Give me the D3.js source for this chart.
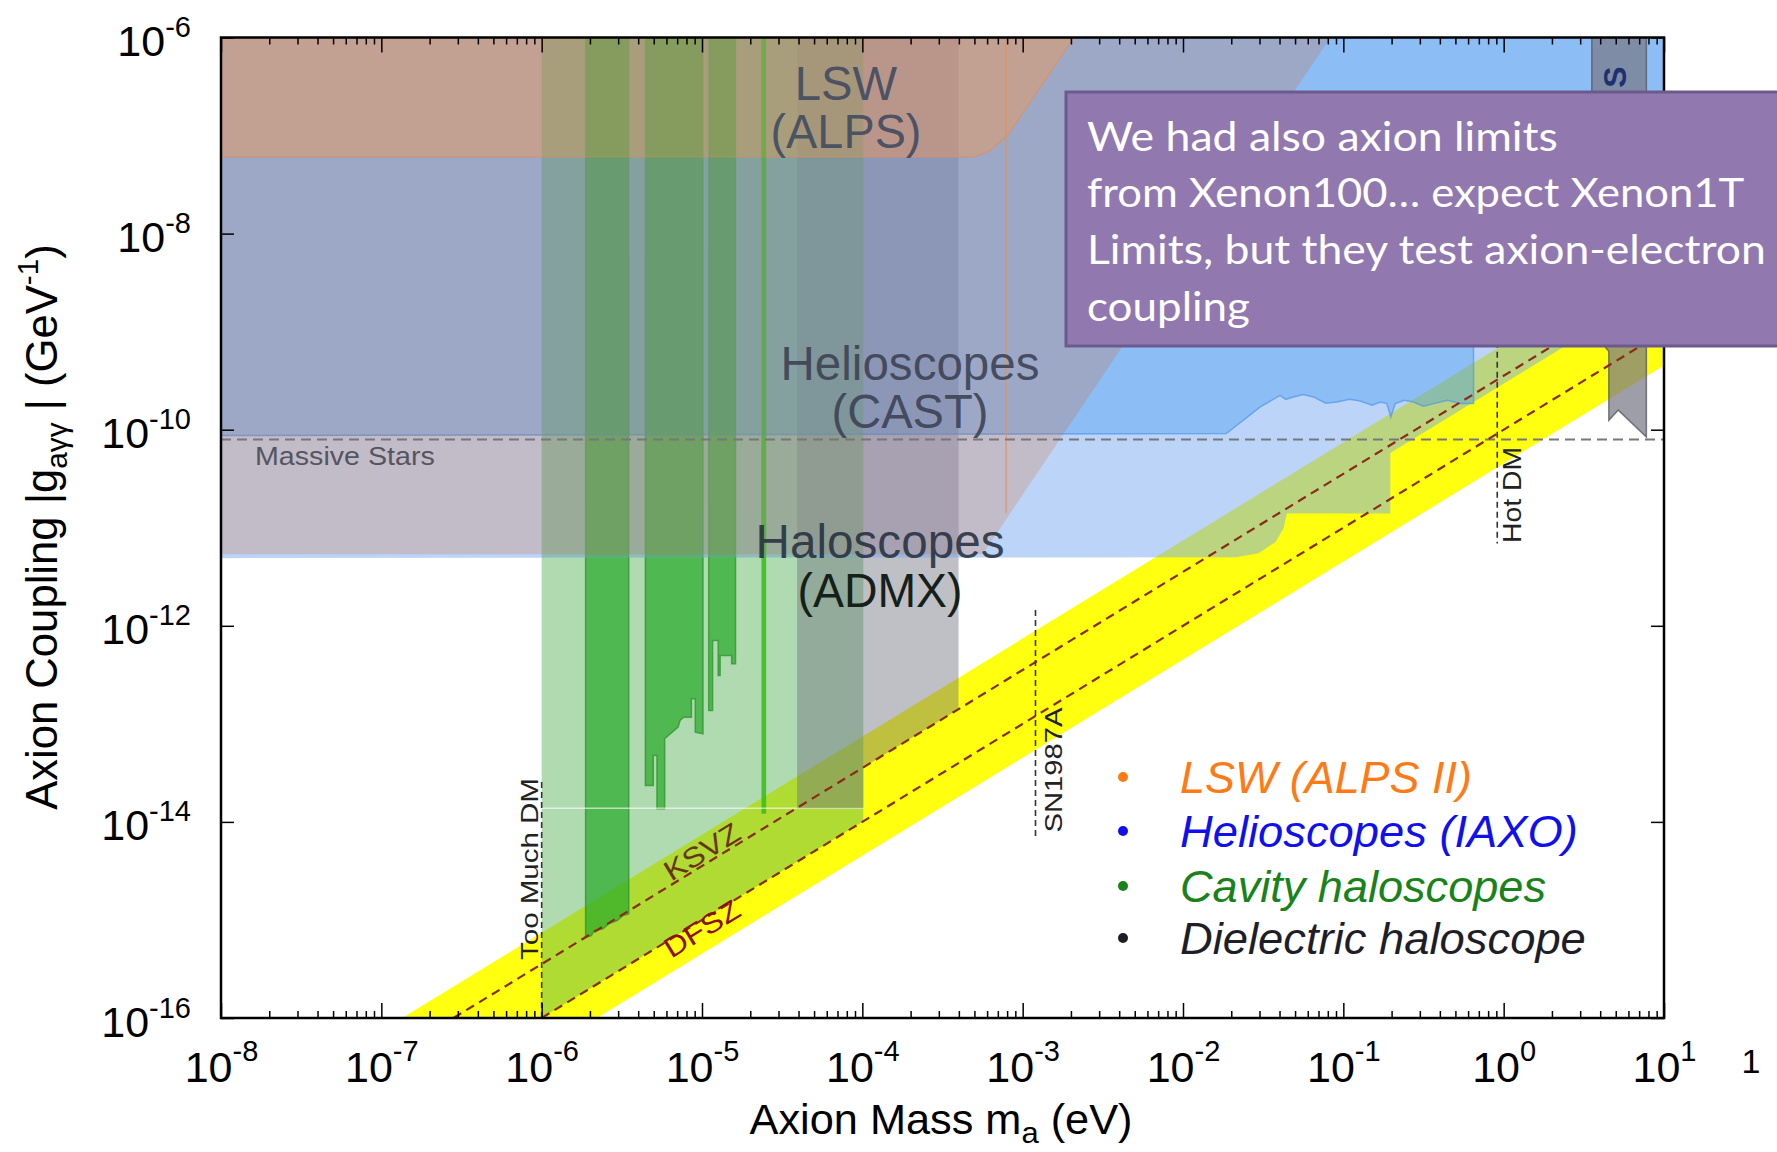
<!DOCTYPE html>
<html>
<head>
<meta charset="utf-8">
<script src="https://cdn.jsdelivr.net/npm/d3@7/dist/d3.min.js"></script>
<style>
body { margin: 0; background: #fff; }
text { font-family: "Liberation Sans", Arial, Helvetica, sans-serif; }
</style>
</head>
<body>
<svg width="1777" height="1152"></svg>
<script>
// every pair is [log10(mass / eV), log10(coupling / GeV^-1)]
var massDecades = [-8, -7, -6, -5, -4, -3, -2, -1, 0, 1];
var couplingDecades = [-6, -8, -10, -12, -14, -16];

var qcdBand = [[-6.87, -16], [-5.655, -16], [1, -9.345], [1, -8.13]];
var ksvzLine = [[-6.55, -16], [1, -8.45]];
var dfszLine = [[-6.0, -16], [1, -9.0]];

var alpsLimit = [[-8, -6], [-2.68, -6], [-2.917, -6.57], [-3.084, -6.976], [-3.2, -7.15], [-3.30, -7.217], [-8, -7.217]];
var alps2Reach = [[-8, -6], [-1.08, -6], [-3.25, -11.27], [-8, -11.27]];
var alpsEdge = [[-3.103, -6], [-3.103, -10.85]];

var castLimit = [[-8, -6], [1, -6], [1, -8.8], [-0.188, -8.8], [-0.188, -9.734], [-0.271, -9.734],
  [-0.35, -9.70], [-0.437, -9.734], [-0.50, -9.76], [-0.562, -9.717], [-0.62, -9.70], [-0.676, -9.734],
  [-0.704, -9.87], [-0.729, -9.734], [-0.77, -9.717], [-0.82, -9.75], [-0.895, -9.707], [-0.96, -9.69],
  [-1.04, -9.717], [-1.11, -9.73], [-1.186, -9.666], [-1.25, -9.64], [-1.311, -9.666], [-1.36, -9.69],
  [-1.394, -9.649], [-1.518, -9.768], [-1.73, -10.04], [-8, -10.06]];

var iaxoReach = [[-8, -6], [1, -6], [1, -8.53], [-0.707, -10.237], [-0.707, -10.855], [-1.352, -10.855],
  [-1.373, -11.006], [-1.423, -11.145], [-1.529, -11.26], [-1.67, -11.30], [-8, -11.31]];

var telescopes = [[0.55, -6], [0.89, -6], [0.89, -10.074], [0.715, -9.80], [0.656, -9.904], [0.656, -9.2], [0.55, -9.0]];

var cavityReach = [[-6, -6], [-3.994, -6], [-3.994, -13.994], [-6, -16]];
var cavitySplit = [[-6, -13.86], [-3.994, -13.86]];

var admxA = [[-5.726, -6], [-5.726, -15.177], [-5.690, -15.159], [-5.673, -15.108], [-5.618, -15.091],
  [-5.583, -15.04], [-5.529, -15.006], [-5.493, -14.955], [-5.457, -14.938], [-5.457, -6]];
var admxB = [[-5.353, -6], [-5.353, -13.629], [-5.304, -13.629], [-5.304, -13.322], [-5.281, -13.322],
  [-5.281, -13.866], [-5.233, -13.866], [-5.233, -13.152], [-5.149, -13.034], [-5.137, -12.966],
  [-5.114, -12.932], [-5.066, -12.932], [-5.066, -12.744], [-5.042, -12.744], [-5.042, -13.085],
  [-4.994, -13.101], [-4.994, -6]];
var admxC = [[-4.958, -6], [-4.958, -12.863], [-4.934, -12.863], [-4.934, -12.149], [-4.899, -12.149],
  [-4.899, -12.506], [-4.887, -12.506], [-4.887, -12.302], [-4.815, -12.302], [-4.815, -12.387],
  [-4.791, -12.387], [-4.791, -6]];
var admxD = [[-4.629, -6], [-4.629, -13.918], [-4.600, -13.918], [-4.600, -6]];

var dielectricReach = [[-4.407, -6], [-3.40, -6], [-3.40, -12.85], [-3.994, -13.444], [-3.994, -13.86], [-4.407, -13.86]];

var massiveStars = [[-8, -10.10], [1, -10.10]];
var tooMuchDM = [[-6.0, -16], [-6.0, -13.56]];
var sn1987a = [[-2.92, -11.84], [-2.92, -14.15]];
var hotDM = [[-0.04, -9.0], [-0.04, -11.16]];

var legendItems = ["LSW (ALPS II)", "Helioscopes (IAXO)", "Cavity haloscopes", "Dielectric haloscope"];
var noteLines = ["We had also axion limits", "from Xenon100\u2026 expect Xenon1T", "Limits, but they test axion-electron", "coupling"];

var svg = d3.select("svg");
var plotLeft = 221, plotRight = 1664, plotTop = 37.5, plotBottom = 1018;

var x = d3.scaleLog().domain([1e-8, 10]).range([plotLeft, plotRight]);
var y = d3.scaleLog().domain([1e-16, 1e-6]).range([plotBottom, plotTop]);

function px(d) { return x(Math.pow(10, d[0])); }
function py(d) { return y(Math.pow(10, d[1])); }
var line = d3.line().x(px).y(py);

var defs = svg.append("defs");
defs.append("clipPath").attr("id", "plot")
  .append("rect").attr("x", plotLeft).attr("y", plotTop)
  .attr("width", plotRight - plotLeft).attr("height", plotBottom - plotTop);
// zone covered by the blue regions, where the green marks are tinted again
defs.append("clipPath").attr("id", "blueZone")
  .append("rect").attr("x", plotLeft).attr("y", plotTop)
  .attr("width", plotRight - plotLeft).attr("height", y(Math.pow(10, -11.3)) - plotTop);

var plot = svg.append("g").attr("clip-path", "url(#plot)");

function region(g, pts, fill, opacity, stroke) {
  return g.append("path")
    .attr("d", line(pts) + "Z")
    .attr("fill", fill)
    .attr("fill-opacity", opacity)
    .attr("stroke", stroke || "none")
    .attr("stroke-width", 1.5);
}

function dashed(pts, color, width, dash) {
  return plot.append("path")
    .attr("d", line(pts))
    .attr("fill", "none")
    .attr("stroke", color)
    .attr("stroke-width", width)
    .attr("stroke-dasharray", dash);
}

var admx = [admxA, admxB, admxC];

region(plot, qcdBand, "#ffff10", 1);
region(plot, cavityReach, "rgb(90,180,90)", 0.48);
admx.forEach(function(d) { region(plot, d, "rgb(40,170,40)", 0.7, "rgba(50,150,50,0.8)"); });
region(plot, admxD, "rgb(60,190,30)", 0.9);
dashed(cavitySplit, "#ffffff", 1.5, null).attr("stroke-opacity", 0.6);
region(plot, dielectricReach, "rgb(110,110,125)", 0.44);
region(plot, iaxoReach, "rgb(120,170,240)", 0.5);
region(plot, castLimit, "rgb(60,150,240)", 0.37, "rgba(80,150,235,0.7)");
region(plot, alps2Reach, "rgb(230,80,0)", 0.19);
region(plot, alpsLimit, "rgb(253,150,67)", 0.4, "rgba(230,140,90,0.6)");
dashed(alpsEdge, "rgb(215,150,110)", 1.2, null);

var tint = plot.append("g").attr("clip-path", "url(#blueZone)");
region(tint, cavityReach, "rgb(120,170,90)", 0.2);
admx.forEach(function(d) { region(tint, d, "rgb(90,160,60)", 0.35); });
region(tint, admxD, "rgb(80,180,40)", 0.5);

region(plot, telescopes, "rgb(120,120,135)", 0.72, "rgba(90,90,100,0.8)");

dashed(massiveStars, "#77777d", 2, "10,6");
dashed(ksvzLine, "#8a2b1c", 2.2, "9,6");
dashed(dfszLine, "#8a2b1c", 2.2, "9,6");
dashed(tooMuchDM, "#333", 1.6, "6,4");
dashed(sn1987a, "#333", 1.6, "6,4");
dashed(hotDM, "#333", 1.6, "6,4");

// text helper: width given in pixels, text squeezed or stretched to fit
function label(str, cx, cy, width, size, color, anchor, rotate, extra) {
  var t = svg.append("text")
    .attr("font-size", size)
    .attr("fill", color)
    .attr("text-anchor", anchor)
    .text(str);
  if (extra) extra(t);
  var k = width ? width / t.node().getBBox().width : 1;
  t.attr("transform", "translate(" + cx + "," + cy + ") rotate(" + rotate + ") scale(" + k + ",1)");
  return t;
}

label("LSW", 846, 100, 103, 48, "#3e4a60", "middle", 0).attr("fill-opacity", 0.9);
label("(ALPS)", 846, 148, 151, 48, "#3e4a60", "middle", 0).attr("fill-opacity", 0.9);
label("Helioscopes", 910, 380, 259, 48, "#3b4152", "middle", 0).attr("fill-opacity", 0.9);
label("(CAST)", 910, 428, 157, 48, "#3b4152", "middle", 0).attr("fill-opacity", 0.9);
label("Haloscopes", 880, 558, 249, 48, "#263040", "middle", 0).attr("fill-opacity", 0.9);
label("(ADMX)", 880, 607, 165, 48, "#142018", "middle", 0);
label("Massive Stars", 255, 465, 180, 25, "#55555f", "start", 0);
label("Too Much DM", 538, 869, 182, 24, "#222", "middle", -90);
label("SN1987A", 1062, 770, 125, 24, "#222", "middle", -90);
label("Hot DM", 1521, 495, 96, 25, "#222", "middle", -90);
label("KSVZ", 707, 860, 84, 28, "#6a3410", "middle", -31.4);
label("DFSZ", 707, 937, 84, 28, "#8b1010", "middle", -31.4);
label("S", 1626, 77, null, 32, "#1e3070", "middle", -90).attr("font-weight", "bold");

// axes
var xMajor = massDecades.map(function(k) { return Math.pow(10, k); });
var xMinor = [];
massDecades.slice(0, -1).forEach(function(k) {
  for (var j = 2; j < 10; j++) xMinor.push(j * Math.pow(10, k));
});
var yMajor = couplingDecades.map(function(k) { return Math.pow(10, k); });

function clean(g) {
  g.select(".domain").remove();
  g.selectAll("line").attr("stroke", "#000").attr("stroke-width", 1.5);
}

var gx = svg.append("g").attr("transform", "translate(0," + plotBottom + ")")
  .call(d3.axisBottom(x).tickValues(xMajor).tickSizeInner(-15).tickSizeOuter(0))
  .call(clean);
gx.selectAll(".tick text")
  .attr("y", 64).attr("dy", null).attr("font-size", 43).attr("fill", "#000")
  .text("10")
  .append("tspan").attr("dy", -21).attr("font-size", 29)
  .text(function(d) { return Math.round(Math.log10(d)); });

svg.append("g").attr("transform", "translate(0," + plotBottom + ")")
  .call(d3.axisBottom(x).tickValues(xMinor).tickSizeInner(-7).tickSizeOuter(0).tickFormat(""))
  .call(clean);
svg.append("g").attr("transform", "translate(0," + plotTop + ")")
  .call(d3.axisTop(x).tickValues(xMajor).tickSizeInner(-15).tickSizeOuter(0).tickFormat(""))
  .call(clean);
svg.append("g").attr("transform", "translate(0," + plotTop + ")")
  .call(d3.axisTop(x).tickValues(xMinor).tickSizeInner(-7).tickSizeOuter(0).tickFormat(""))
  .call(clean);

var gy = svg.append("g").attr("transform", "translate(" + plotLeft + ",0)")
  .call(d3.axisLeft(y).tickValues(yMajor).tickSizeInner(-13).tickSizeOuter(0).tickPadding(30))
  .call(clean);
gy.selectAll(".tick text")
  .attr("y", 18).attr("dy", null).attr("font-size", 43).attr("fill", "#000")
  .text("10")
  .append("tspan").attr("dy", -19).attr("font-size", 29)
  .text(function(d) { return Math.round(Math.log10(d)); });

svg.append("g").attr("transform", "translate(" + plotRight + ",0)")
  .call(d3.axisRight(y).tickValues(yMajor).tickSizeInner(-13).tickSizeOuter(0).tickFormat(""))
  .call(clean);

svg.append("rect")
  .attr("x", plotLeft).attr("y", plotTop)
  .attr("width", plotRight - plotLeft).attr("height", plotBottom - plotTop)
  .attr("fill", "none").attr("stroke", "#000").attr("stroke-width", 2.5);

svg.append("text").attr("x", 1751).attr("y", 1073).attr("font-size", 34).attr("text-anchor", "middle").text("1");

// axis titles
var xt = svg.append("text").attr("font-size", 42).attr("text-anchor", "middle");
xt.append("tspan").text("Axion Mass m");
xt.append("tspan").attr("font-size", 30).attr("dy", 9).text("a");
xt.append("tspan").attr("dy", -9).text(" (eV)");
var xk = 383 / xt.node().getBBox().width;
xt.attr("transform", "translate(941,1134) scale(" + xk + ",1)");

var yt = svg.append("text").attr("font-size", 44).attr("text-anchor", "middle");
yt.append("tspan").text("Axion Coupling |g");
yt.append("tspan").attr("font-size", 30).attr("dy", 10).text("a\u03b3\u03b3");
yt.append("tspan").attr("dy", -10).text(" | (GeV");
yt.append("tspan").attr("font-size", 30).attr("dy", -19).text("-1");
yt.append("tspan").attr("dy", 19).text(")");
var yk = 566 / yt.node().getBBox().width;
yt.attr("transform", "translate(57,527) rotate(-90) scale(" + yk + ",1)");

// legend
var legendColors = ["#ff7a14", "#1010ee", "#1a821a", "#1e1e28"];
var legendWidths = [292, 398, 366, 406];
legendItems.forEach(function(d, i) {
  var base = [793, 847, 902, 954][i];
  svg.append("circle").attr("cx", 1123).attr("cy", base - 16).attr("r", 5).attr("fill", legendColors[i]);
  label(d, 1180, base, legendWidths[i], 44, legendColors[i], "start", 0, function(t) {
    t.attr("font-style", "italic");
  });
});

// note box
svg.append("rect")
  .attr("x", 1066).attr("y", 92).attr("width", 720).attr("height", 254)
  .attr("fill", "#9179b0").attr("stroke", "#6c5a8e").attr("stroke-width", 3);
var noteWidths = [471, 658, 679, 163];
noteLines.forEach(function(d, i) {
  label(d, 1087, [151, 207, 264, 321][i], noteWidths[i], 40, "#ffffff", "start", 0, function(t) {
    t.style("font-family", "Lato, 'Open Sans', sans-serif");
  });
});
</script>
</body>
</html>
